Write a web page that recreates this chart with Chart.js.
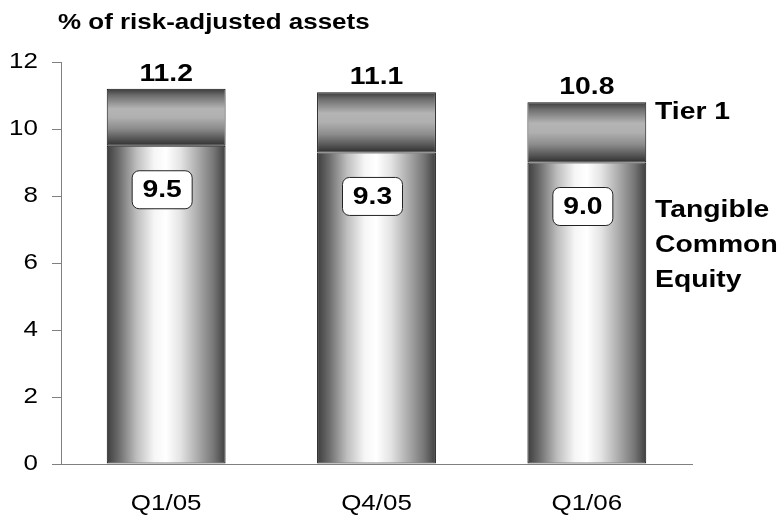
<!DOCTYPE html>
<html>
<head>
<meta charset="utf-8">
<script src="https://cdn.jsdelivr.net/npm/chart.js@4.4.1/dist/chart.umd.min.js"></script>
<style>
  html, body { margin: 0; padding: 0; background: #ffffff; }
  #wrap { width: 779px; height: 519px; }
</style>
</head>
<body>
<div id="wrap"><canvas id="capital" width="779" height="519"></canvas></div>
<script>
// Capital ratios, % of risk-adjusted assets
const categories = ['Q1/05', 'Q4/05', 'Q1/06'];
const tangibleCommonEquity = [9.5, 9.3, 9.0];
const tier1 = [11.2, 11.1, 10.8];
const yTickRange = [0, 12];
const yTickStep = 2;
const unitTitle = '% of risk-adjusted assets';
const tier1Caption = ['Tier 1'];
const equityCaption = ['Tangible', 'Common', 'Equity'];

const FONT = "'Liberation Sans', Arial, Helvetica, sans-serif";
const BAR_FRACTION = 0.565;
const AXIS_GREY = '#808080';
const TEXT_WIDEN = 1.18;   // glyphs are set a little wider than the regular face

Chart.defaults.font.family = FONT;

// All text on this canvas is drawn horizontally widened around its anchor point,
// so left / centre / right alignment keeps working unchanged.
const canvas = document.getElementById('capital');
const ctx2d = canvas.getContext('2d');
const nativeFillText = ctx2d.fillText;
ctx2d.fillText = function (text, x, y, maxWidth) {
  this.save();
  this.translate(x, y);
  this.scale(TEXT_WIDEN, 1);
  if (typeof maxWidth === 'number') nativeFillText.call(this, text, 0, 0, maxWidth / TEXT_WIDEN);
  else nativeFillText.call(this, text, 0, 0);
  this.restore();
};

// Horizontal "cylinder" shading for the equity part of each column
function equityFill(context) {
  const chart = context.chart;
  const xs = chart.scales.x;
  if (!chart.chartArea || !xs) return '#bbbbbb';
  const cx = xs.getPixelForValue(context.dataIndex);
  const half = (xs.width / categories.length) * BAR_FRACTION / 2;
  const g = chart.ctx.createLinearGradient(cx - half, 0, cx + half, 0);
  g.addColorStop(0.00, '#3d3d3d');
  g.addColorStop(0.10, '#6b6b6b');
  g.addColorStop(0.25, '#bdbdbd');
  g.addColorStop(0.40, '#f6f6f6');
  g.addColorStop(0.50, '#ffffff');
  g.addColorStop(0.62, '#e4e4e4');
  g.addColorStop(0.78, '#a6a6a6');
  g.addColorStop(0.90, '#767676');
  g.addColorStop(1.00, '#3f3f3f');
  return g;
}

// Vertical shading for the Tier 1 cap on top of each column
function tier1Fill(context) {
  const chart = context.chart;
  const ys = chart.scales.y;
  if (!chart.chartArea || !ys) return '#888888';
  const i = context.dataIndex;
  const top = ys.getPixelForValue(tier1[i]);
  const bottom = ys.getPixelForValue(tangibleCommonEquity[i]);
  const g = chart.ctx.createLinearGradient(0, top, 0, bottom);
  g.addColorStop(0.00, '#3a3a3a');
  g.addColorStop(0.12, '#6e6e6e');
  g.addColorStop(0.35, '#b4b4b4');
  g.addColorStop(0.50, '#b0b0b0');
  g.addColorStop(0.70, '#8c8c8c');
  g.addColorStop(0.88, '#555555');
  g.addColorStop(1.00, '#2e2e2e');
  return g;
}

function roundRect(ctx, x, y, w, h, r) {
  ctx.beginPath();
  ctx.moveTo(x + r, y);
  ctx.lineTo(x + w - r, y);
  ctx.arcTo(x + w, y, x + w, y + r, r);
  ctx.lineTo(x + w, y + h - r);
  ctx.arcTo(x + w, y + h, x + w - r, y + h, r);
  ctx.lineTo(x + r, y + h);
  ctx.arcTo(x, y + h, x, y + h - r, r);
  ctx.lineTo(x, y + r);
  ctx.arcTo(x, y, x + r, y, r);
  ctx.closePath();
}

// Value labels, unit title and the series captions on the right
const annotations = {
  id: 'annotations',
  afterDatasetsDraw(chart) {
    const { ctx, scales: { x, y }, chartArea } = chart;
    ctx.save();
    ctx.fillStyle = '#000000';

    // Tier 1 totals above the columns
    ctx.font = `bold 24px ${FONT}`;
    ctx.textAlign = 'center';
    ctx.textBaseline = 'alphabetic';
    tier1.forEach((v, i) => {
      ctx.fillText(v.toFixed(1), x.getPixelForValue(i), y.getPixelForValue(v) - 8);
    });

    // Tangible common equity in rounded boxes
    tangibleCommonEquity.forEach((v, i) => {
      const cx = x.getPixelForValue(i) - 4;
      const cy = y.getPixelForValue(v) + 44;
      const w = 60, h = 38;
      roundRect(ctx, cx - w / 2, cy - h / 2, w, h, 7);
      ctx.fillStyle = '#ffffff';
      ctx.fill();
      ctx.lineWidth = 1;
      ctx.strokeStyle = '#222222';
      ctx.stroke();
      ctx.fillStyle = '#000000';
      ctx.textBaseline = 'middle';
      ctx.fillText(v.toFixed(1), cx, cy + 1);
    });

    // Unit title
    ctx.textAlign = 'left';
    ctx.textBaseline = 'alphabetic';
    ctx.font = `bold 22px ${FONT}`;
    ctx.fillText(unitTitle, 58, 29);

    // Series captions
    ctx.font = `bold 24px ${FONT}`;
    const capX = chartArea.right - 37;
    tier1Caption.forEach((t, k) => ctx.fillText(t, capX, 119 + k * 35));
    equityCaption.forEach((t, k) => ctx.fillText(t, capX, 217 + k * 35));
    ctx.restore();
  }
};

const chart = new Chart(canvas, {
  type: 'bar',
  data: {
    labels: categories,
    datasets: [
      {
        label: 'Tangible Common Equity',
        data: tangibleCommonEquity,
        backgroundColor: equityFill,
        borderColor: '#111111',
        borderWidth: 1,
        borderSkipped: false,
        grouped: false,
        categoryPercentage: 1,
        barPercentage: BAR_FRACTION
      },
      {
        label: 'Tier 1',
        data: tier1.map((v, i) => [tangibleCommonEquity[i], v]),
        backgroundColor: tier1Fill,
        borderColor: '#111111',
        borderWidth: 1,
        borderSkipped: false,
        grouped: false,
        categoryPercentage: 1,
        barPercentage: BAR_FRACTION
      }
    ]
  },
  options: {
    responsive: false,
    animation: false,
    devicePixelRatio: 1,
    layout: { padding: { top: 62, right: 87, bottom: 0, left: 0 } },
    plugins: {
      legend: { display: false },
      title: { display: false },
      tooltip: { enabled: false }
    },
    scales: {
      x: {
        grid: { display: true, drawOnChartArea: false, drawTicks: false },
        border: { display: true, color: AXIS_GREY, width: 1 },
        ticks: { color: '#000000', font: { size: 22 }, padding: 27 },
        afterFit(scale) { scale.height = 55; }
      },
      y: {
        min: yTickRange[0],
        max: yTickRange[1],
        ticks: { stepSize: yTickStep, color: '#000000', font: { size: 22 }, padding: 14 },
        grid: { drawOnChartArea: false, drawTicks: true, tickLength: 9, color: AXIS_GREY },
        border: { display: true, color: AXIS_GREY, width: 1 },
        afterFit(scale) { scale.width = 61; }
      }
    }
  },
  plugins: [annotations]
});
</script>
</body>
</html>
